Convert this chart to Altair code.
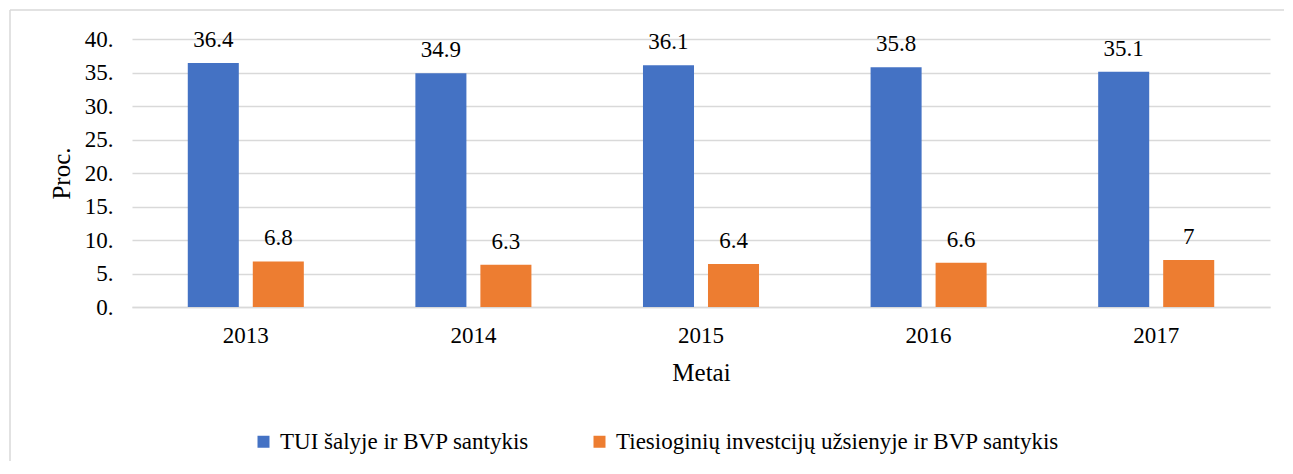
import altair as alt
import pandas as pd

years = ["2013", "2014", "2015", "2016", "2017"]
series_names = ["TUI šalyje ir BVP santykis",
                "Tiesioginių investcijų užsienyje ir BVP santykis"]
tui_values = [36.4, 34.9, 36.1, 35.8, 35.1]
abroad_values = [6.8, 6.3, 6.4, 6.6, 7.0]
colors = ["#4472C4", "#ED7D31"]
y_ticks = [0, 5, 10, 15, 20, 25, 30, 35, 40]

rows = []
for i, y in enumerate(years):
    rows.append({"Metai": y, "Serija": series_names[0], "Reikšmė": tui_values[i]})
    rows.append({"Metai": y, "Serija": series_names[1], "Reikšmė": abroad_values[i]})
df = pd.DataFrame(rows)
df["Etiketė"] = df["Reikšmė"].map(lambda v: f"{v:g}")

FONT = "Liberation Serif"

x_enc = alt.X("Metai:N", sort=years,
              scale=alt.Scale(paddingInner=0, paddingOuter=0),
              axis=alt.Axis(title="Metai", labelAngle=0, ticks=False, tickSize=0,
                            labelPadding=17, titlePadding=13,
                            domainColor="#d9d9d9", domainWidth=1.5))
xoff_enc = alt.XOffset("Serija:N", sort=series_names,
                       scale=alt.Scale(paddingInner=0.215, paddingOuter=0.858))
y_enc = alt.Y("Reikšmė:Q", scale=alt.Scale(domain=[0, 40], nice=False),
              axis=alt.Axis(title="Proc.", values=y_ticks, tickCount=9,
                            labelExpr="datum.label + '.'", labelOverlap=False,
                            ticks=False, tickSize=0, domain=False, labelPadding=19,
                            titlePadding=10, gridColor="#d9d9d9", gridWidth=1.5))
color_enc = alt.Color("Serija:N", sort=series_names,
                      scale=alt.Scale(domain=series_names, range=colors),
                      legend=alt.Legend(title=None, orient="none", direction="horizontal",
                                        legendX=120, legendY=391, symbolType="square",
                                        symbolSize=144, symbolStrokeWidth=0,
                                        labelOffset=5, columnPadding=58,
                                        labelFontSize=23, labelFont=FONT,
                                        labelColor="#000000", labelLimit=0))

bars = alt.Chart(df).mark_bar().encode(x=x_enc, xOffset=xoff_enc, y=y_enc, color=color_enc)
labels = alt.Chart(df).mark_text(baseline="alphabetic", dy=-16, fontSize=23,
                                 font=FONT, color="#000000").encode(
    x=alt.X("Metai:N", sort=years), xOffset=alt.XOffset("Serija:N", sort=series_names),
    y="Reikšmė:Q", text="Etiketė:N")

frame_df = pd.DataFrame({"b": [0]})
border_top = alt.Chart(frame_df).mark_rule(color="#d9d9d9", strokeWidth=1.5).encode(
    x=alt.value(-122), x2=alt.value(1190), y=alt.value(-29))
border_left = alt.Chart(frame_df).mark_rule(color="#d9d9d9", strokeWidth=1.5).encode(
    x=alt.value(-122), y=alt.value(-29), y2=alt.value(500))

chart = alt.layer(border_top, border_left, bars, labels).properties(
    width=1138, height=268,
    autosize=alt.AutoSizeParams(type="none"),
    padding={"left": 124, "top": 31, "right": 14, "bottom": 154},
).configure_axis(
    labelFont=FONT, titleFont=FONT, labelFontSize=23, titleFontSize=25,
    labelColor="#000000", titleColor="#000000", titleFontWeight="normal",
).configure_view(stroke=None)

chart.save("out.html", embed_options={"renderer": "svg", "actions": False})
